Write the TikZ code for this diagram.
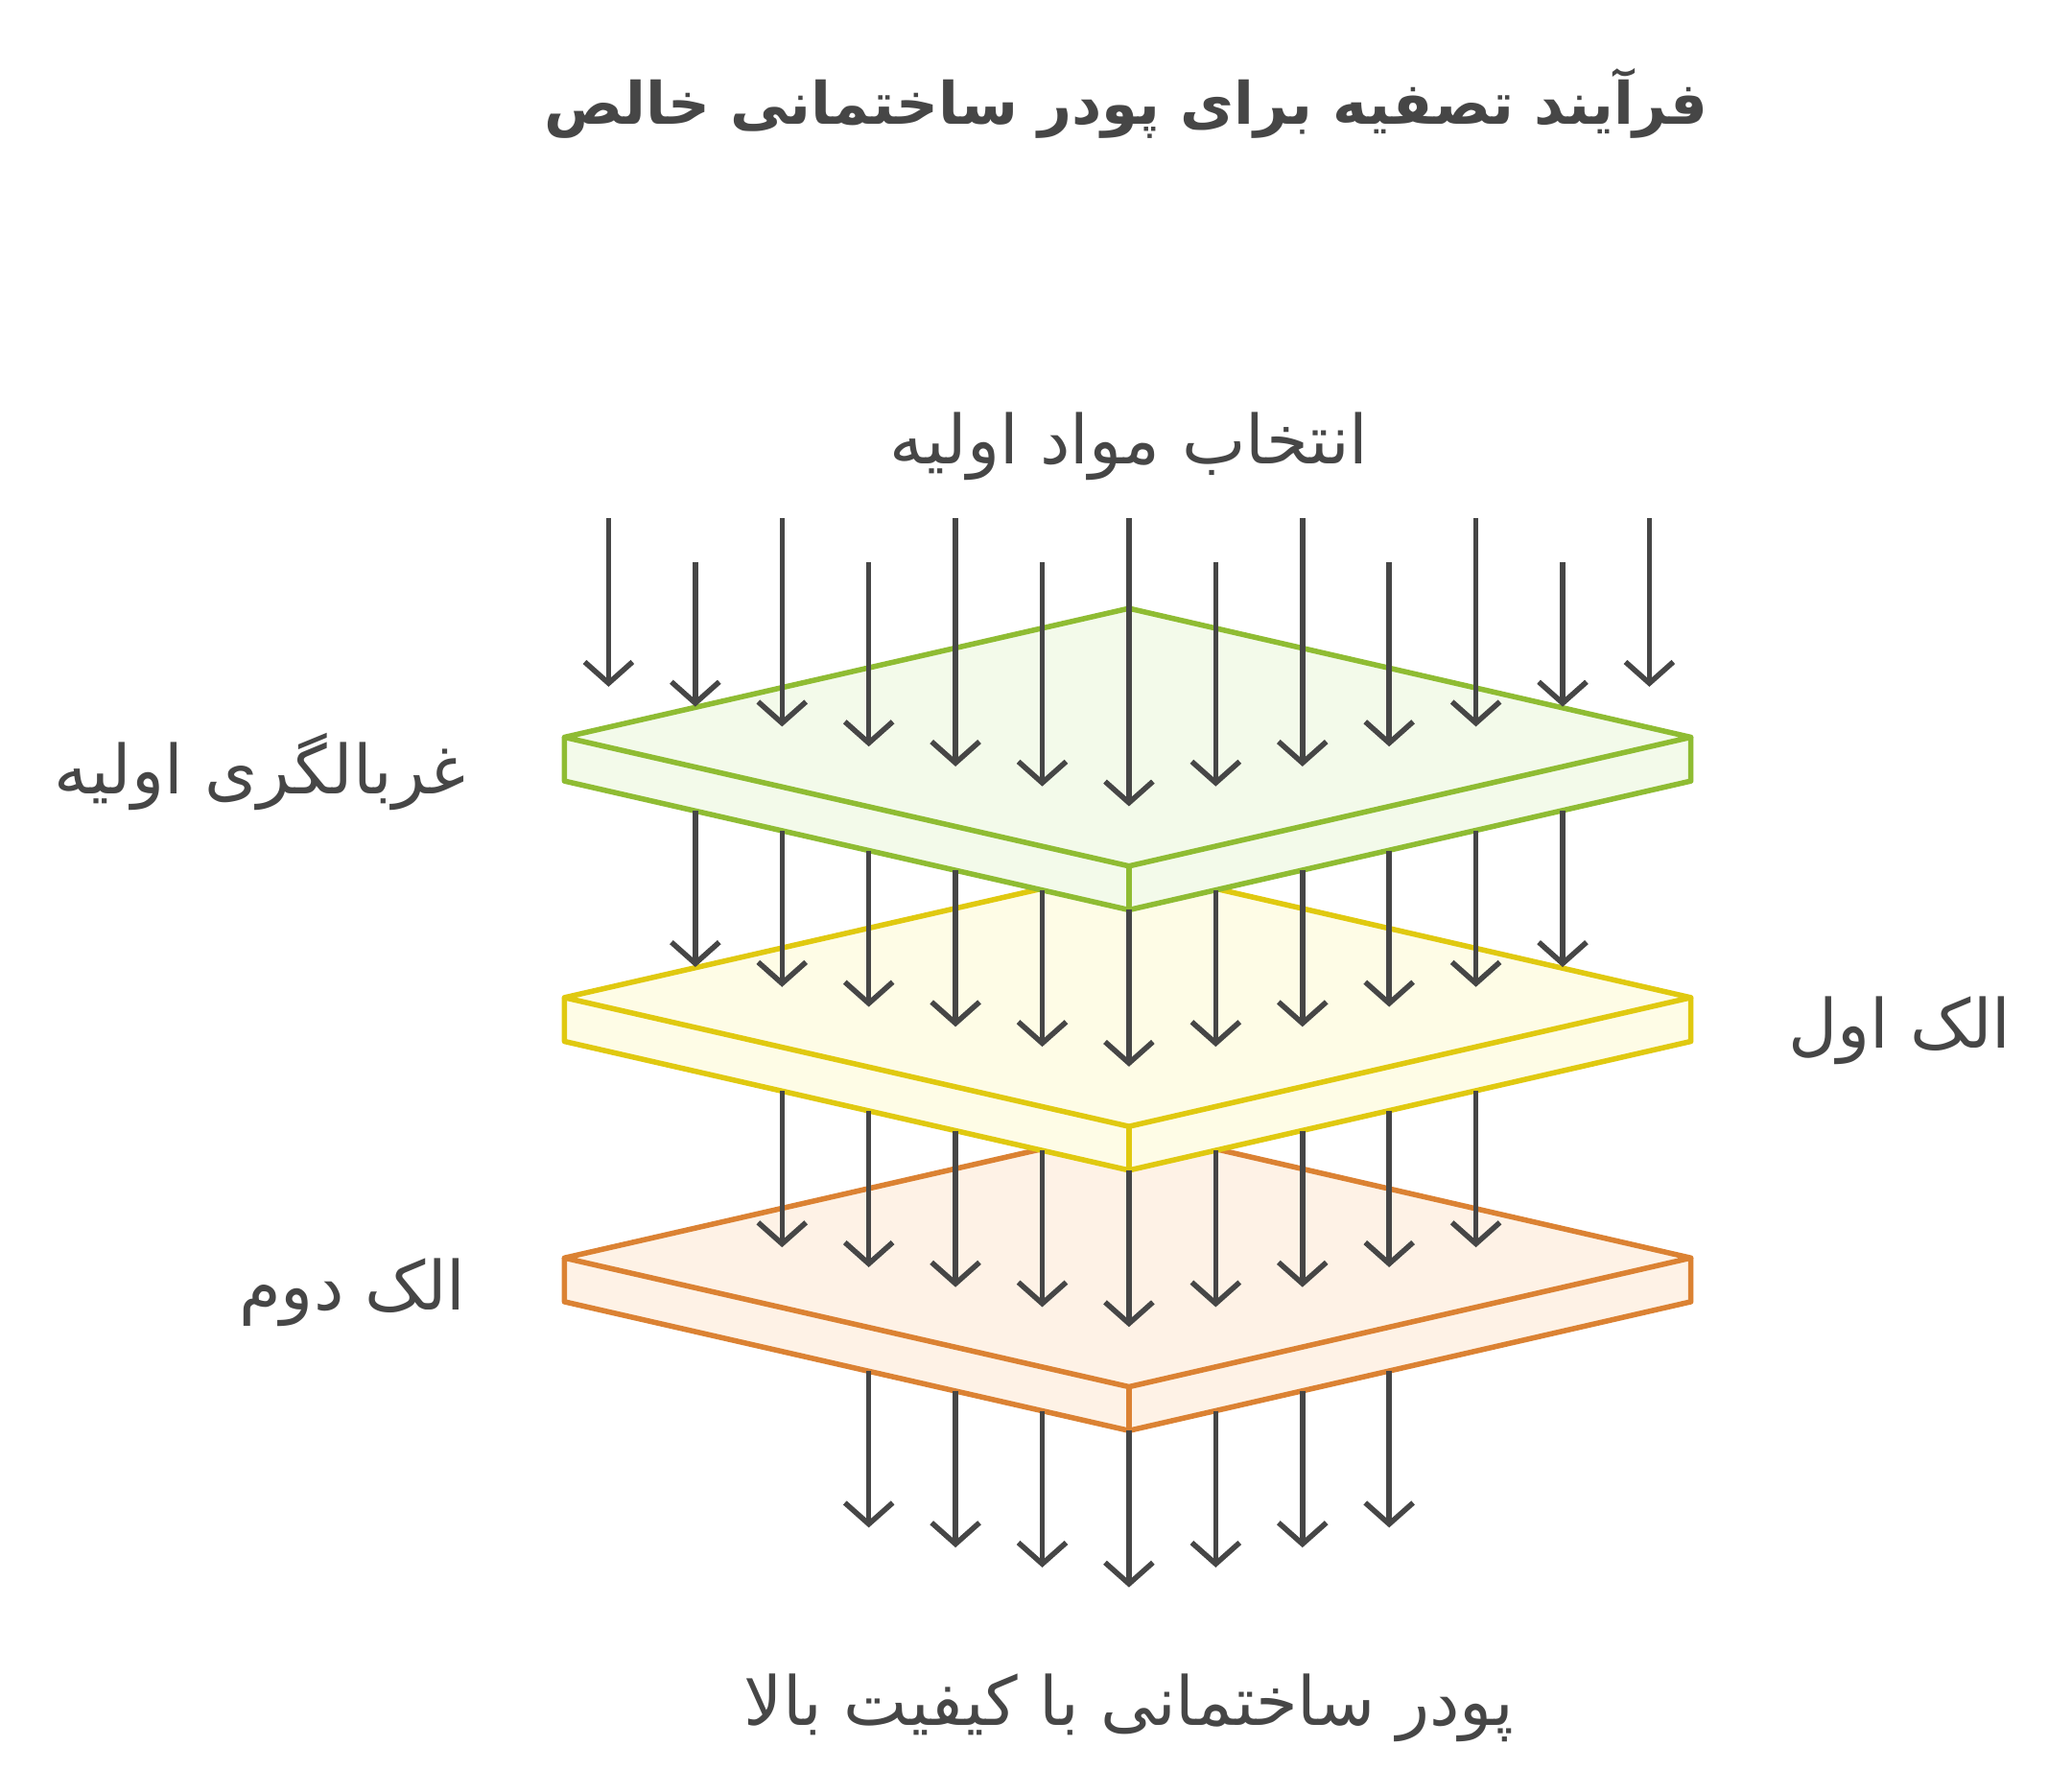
\documentclass[tikz,border=0pt]{standalone}
\usepackage{fontspec}
\usetikzlibrary{arrows.meta}
\TeXXeTstate=1
\newfontfamily\arabicfont[Script=Arabic]{DejaVu Sans}
\definecolor{ink}{HTML}{464646}
\definecolor{gS}{HTML}{8FBC33}\definecolor{gF}{HTML}{F3FAEA}
\definecolor{yS}{HTML}{E0C910}\definecolor{yF}{HTML}{FEFCE6}
\definecolor{oS}{HTML}{DB8233}\definecolor{oF}{HTML}{FEF2E6}
\tikzset{flow/.style={draw=ink,line width=4pt,-{Straight Barb[length=16pt,width=36pt,line width=4pt]}},
lbl/.style={text=ink,font=\arabicfont\fontsize{51}{58}\selectfont},
ttl/.style={text=ink,font=\arabicfont\bfseries\fontsize{44}{50}\selectfont}}
\newcommand{\plate}[3]{% y-offset, stroke, fill
 \fill[#3] (425,555+#1)--(850,458+#1)--(1273,555+#1)--(1273,588+#1)--(850,685+#1)--(425,588+#1)--cycle;
 \draw[#2,line width=4pt,line join=round] (425,555+#1)--(850,458+#1)--(1273,555+#1)--(850,652+#1)--cycle;
 \draw[#2,line width=4pt,line join=round] (425,555+#1)--(425,588+#1)--(850,685+#1)--(1273,588+#1)--(1273,555+#1);
 \draw[#2,line width=4pt] (850,652+#1)--(850,685+#1);}
\begin{document}
\begin{tikzpicture}[x=1pt,y=-1pt]
\useasboundingbox (0,0) rectangle (1560,1332);
\fill[white] (0,0) rectangle (1560,1332);
\plate{392}{oS}{oF}
\foreach \k in {-3,...,3}{
 \pgfmathsetmacro\xx{850+65.3*\k}\pgfmathsetmacro\ys{1077-abs(65.3*\k)*0.22824}\pgfmathsetmacro\ye{1195-15*abs(\k)}
 \coordinate (b1) at (\xx,\ys);\coordinate (b2) at (\xx,\ye);\draw[flow] (b1)--(b2);}
\plate{196}{yS}{yF}
\foreach \k in {-4,...,4}{
 \pgfmathsetmacro\xx{850+65.3*\k}\pgfmathsetmacro\ys{881-abs(65.3*\k)*0.22824}\pgfmathsetmacro\ye{999-15*abs(\k)}
 \coordinate (c1) at (\xx,\ys);\coordinate (c2) at (\xx,\ye);\draw[flow] (c1)--(c2);}
\plate{0}{gS}{gF}
\foreach \k in {-5,...,5}{
 \pgfmathsetmacro\xx{850+65.3*\k}\pgfmathsetmacro\ys{685-abs(65.3*\k)*0.22824}\pgfmathsetmacro\ye{803-15*abs(\k)}
 \coordinate (d1) at (\xx,\ys);\coordinate (d2) at (\xx,\ye);\draw[flow] (d1)--(d2);}
\foreach \k in {-6,...,6}{
 \pgfmathsetmacro\xx{850+65.3*\k}\pgfmathsetmacro\ys{isodd(\k)?423:390}\pgfmathsetmacro\ye{607-15*abs(\k)}
 \coordinate (e1) at (\xx,\ys);\coordinate (e2) at (\xx,\ye);\draw[flow] (e1)--(e2);}
\node[ttl] (title) at (848,78) {\beginR فرآیند تصفیه برای پودر ساختمانی خالص\endR};
\node[lbl] (in) at (850,336) {\beginR انتخاب مواد اولیه\endR};
\node[lbl,anchor=east] (l1) at (354,581) {\beginR غربالگری اولیه\endR};
\node[lbl,anchor=west] (l2) at (1343,776) {\beginR الک اول\endR};
\node[lbl,anchor=east] (l3) at (354,973) {\beginR الک دوم\endR};
\node[lbl] (out) at (850,1286) {\beginR پودر ساختمانی با کیفیت بالا\endR};
\end{tikzpicture}
\end{document}
